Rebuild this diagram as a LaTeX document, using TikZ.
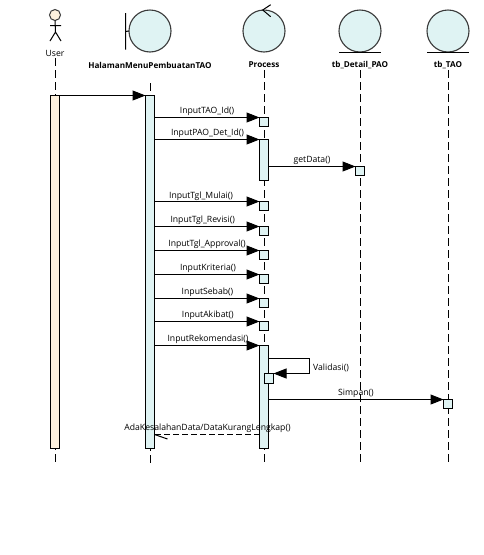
\documentclass[tikz,border=0pt]{standalone}
\usepackage{fontspec}
\setmainfont{Open Sans}
\usetikzlibrary{arrows.meta}
\definecolor{actfill}{HTML}{DFF3F3}
\definecolor{userfill}{HTML}{FDF1DE}
\definecolor{edge}{HTML}{3A3A3A}
\tikzset{
  x=1pt,y=-1pt,
  actbox/.style={draw=black,fill=actfill,line width=1pt,minimum width=9pt,inner sep=0pt,outer sep=0pt,anchor=north},
  robust/.style={draw=edge,fill=actfill,line width=1.1pt,circle,minimum size=42pt,inner sep=0pt,outer sep=0pt},
  lifeline/.style={draw=black,line width=1pt,dash pattern=on 8pt off 4pt},
  msg/.style={draw=black,line width=1pt,-{Triangle[length=13pt,width=10pt,fill=black]}},
  ret/.style={draw=black,line width=1pt,dash pattern=on 6pt off 3pt},
  msgtext/.style={font=\fontsize{8.65pt}{10pt}\selectfont,text=black,inner sep=0pt,yshift=-1pt},
  headtext/.style={font=\fontsize{8.15pt}{10pt}\selectfont\bfseries,text=black,inner sep=0pt,yshift=-1pt},
  stick/.style={draw=black,line width=1pt},
}
\begin{document}
\begin{tikzpicture}
\useasboundingbox (0,0) rectangle (483,555);
\fill[white] (0,0) rectangle (483,555);

% lifeline ends
\coordinate (endU) at (55.5,462.5);
\coordinate (endH) at (150.5,462.5);
\coordinate (endP) at (264.5,462.5);
\coordinate (endD) at (360.5,462.5);
\coordinate (endT) at (448.5,462.5);

% heads
\node[circle,draw=edge,fill=userfill,line width=1pt,minimum size=11pt,inner sep=0pt,outer sep=0pt] (userhead) at (55,15) {};
\node[msgtext] (lU) at (55,52) {User};
\node[robust] (cH) at (150,31) {};
\node[robust] (cP) at (264,31) {};
\node[robust] (cD) at (360,31) {};
\node[robust] (cT) at (448,31) {};
\node[headtext] (lH) at (150,64) {HalamanMenuPembuatanTAO};
\node[headtext] (lP) at (264,64) {Process};
\node[headtext] (lD) at (360,64) {tb\_Detail\_PAO};
\node[headtext] (lT) at (448,64) {tb\_TAO};

% actor figure
\draw[stick] (userhead.south) -- (55.5,32) (50,25.5) -- (61,25.5) (50,41) -- (55.5,32) -- (61,41);
% boundary
\draw[stick] (125.5,13) -- (125.5,49.5) (125.5,31.5) -- (cH.west);
% control
\draw[stick] (270.7,4.7) -- (262.7,10) -- (270.7,16.7);
% entities
\draw[stick] (339,52.5) -- (381,52.5) (427,52.5) -- (469,52.5);

\draw[lifeline] (55.5,58) -- (endU);
\draw[lifeline] (150.5,83) -- (endH);
\draw[lifeline] (264.5,70) -- (endP);
\draw[lifeline] (360.5,70) -- (endD);
\draw[lifeline] (448.5,70) -- (endT);

% activations
\node[actbox,fill=userfill,minimum height=353pt] (aU) at (55,95.5) {};
\node[actbox,minimum height=353pt] (aH) at (150,95.5) {};
\node[actbox,minimum height=9pt] (b1) at (264,117.5) {};
\node[actbox,minimum height=41pt] (b2) at (264,139.5) {};
\node[actbox,minimum height=9pt] (b3) at (360,166.5) {};
\node[actbox,minimum height=9pt] (b4) at (264,201.5) {};
\node[actbox,minimum height=9pt] (b5) at (264,226.5) {};
\node[actbox,minimum height=9pt] (b6) at (264,250.5) {};
\node[actbox,minimum height=9pt] (b7) at (264,274.5) {};
\node[actbox,minimum height=9pt] (b8) at (264,298.5) {};
\node[actbox,minimum height=9pt] (b9) at (264,321.5) {};
\node[actbox,minimum height=103pt] (b10) at (264,345.5) {};
\node[actbox,minimum height=10pt] (b11) at (269,373.5) {};
\node[actbox,minimum height=9pt] (b12) at (448,399.5) {};

% messages
\draw[msg] (aU.north east) -- (aH.north west);
\draw[msg] (aH.east |- b1.north) -- (b1.north west);
\draw[msg] (aH.east |- b2.north) -- (b2.north west);
\draw[msg] (b2.east |- b3.north) -- (b3.north west);
\draw[msg] (aH.east |- b4.north) -- (b4.north west);
\draw[msg] (aH.east |- b5.north) -- (b5.north west);
\draw[msg] (aH.east |- b6.north) -- (b6.north west);
\draw[msg] (aH.east |- b7.north) -- (b7.north west);
\draw[msg] (aH.east |- b8.north) -- (b8.north west);
\draw[msg] (aH.east |- b9.north) -- (b9.north west);
\draw[msg] (aH.east |- b10.north) -- (b10.north west);
\coordinate (selfA) at (309.5,358.5);
\coordinate (selfB) at (309.5,373.5);
\draw[msg] (b10.east |- selfA) -- (selfA) -- (selfB) -- (b11.north east);
\draw[msg] (b10.east |- b12.north) -- (b12.north west);
\coordinate (retS) at (b10.west |- 0,434.5);
\coordinate (retE) at (aH.east |- 0,434.5);
\draw[ret] (retS) -- (retE);
\draw[draw=black,line width=1pt] (retE) -- ++(13,4.5);

% labels
\node[msgtext] (m1) at (207,110) {InputTAO\_Id()};
\node[msgtext] (m2) at (207.5,132) {InputPAO\_Det\_Id()};
\node[msgtext] (m3) at (312,159) {getData()};
\node[msgtext] (m4) at (201,195) {InputTgl\_Mulai()};
\node[msgtext] (m5) at (202.7,219) {InputTgl\_Revisi()};
\node[msgtext] (m6) at (207,243) {InputTgl\_Approval()};
\node[msgtext] (m7) at (208,267) {InputKriteria()};
\node[msgtext] (m8) at (207.5,291) {InputSebab()};
\node[msgtext] (m9) at (207.8,314) {InputAkibat()};
\node[msgtext] (m10) at (208,338) {InputRekomendasi()};
\node[msgtext,anchor=west] (m11) at (313,367) {Validasi()};
\node[msgtext] (m12) at (356,392) {Simpan()};
\node[msgtext] (m13) at (207.5,427) {AdaKesalahanData/DataKurangLengkap()};
\end{tikzpicture}
\end{document}
